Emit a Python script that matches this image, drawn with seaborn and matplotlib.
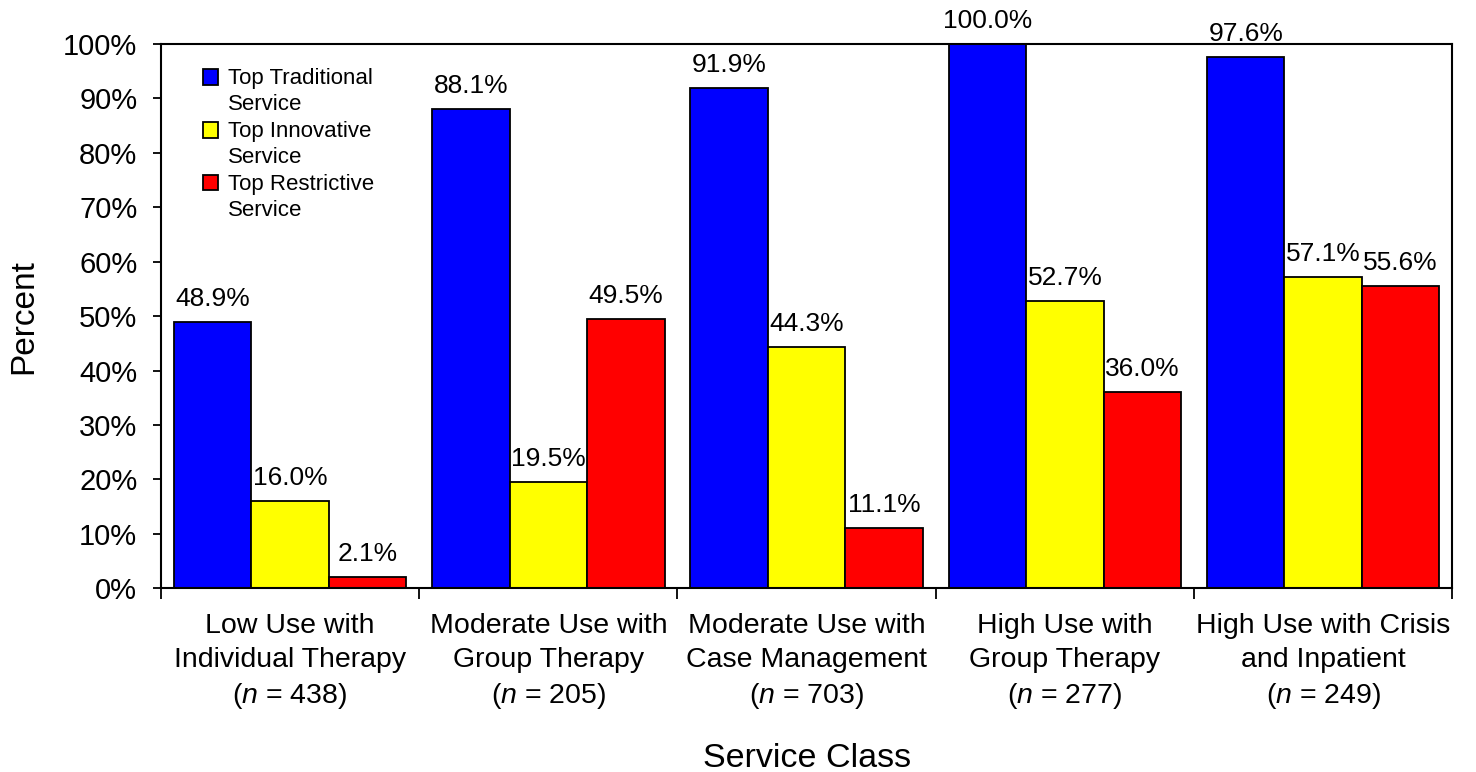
import numpy as np
import pandas as pd
import matplotlib
matplotlib.use('Agg')
import matplotlib.pyplot as plt
from matplotlib.ticker import FuncFormatter, FixedLocator
from matplotlib.legend_handler import HandlerPatch
from matplotlib.patches import Rectangle
import seaborn as sns

sns.set_theme(style='ticks')
plt.rcParams['font.family'] = ['Liberation Sans', 'DejaVu Sans']
plt.rcParams['mathtext.fontset'] = 'custom'
plt.rcParams['mathtext.rm'] = 'Liberation Sans'
plt.rcParams['mathtext.it'] = 'Liberation Sans:italic'
plt.rcParams['text.color'] = 'black'
plt.rcParams['axes.labelcolor'] = 'black'
plt.rcParams['xtick.color'] = 'black'
plt.rcParams['ytick.color'] = 'black'

# data
classes = ['Low Use with\nIndividual Therapy', 'Moderate Use with\nGroup Therapy',
           'Moderate Use with\nCase Management', 'High Use with\nGroup Therapy',
           'High Use with Crisis\nand Inpatient']
n_sizes = [438, 205, 703, 277, 249]
services = ['Top Traditional\nService', 'Top Innovative\nService', 'Top Restrictive\nService']
traditional = [48.9, 88.1, 91.9, 100.0, 97.6]
innovative = [16.0, 19.5, 44.3, 52.7, 57.1]
restrictive = [2.1, 49.5, 11.1, 36.0, 55.6]
colors = ['#0000FF', '#FFFF00', '#FF0000']

tick_labels = [f'{c}\n($\\mathit{{n}}$ = {n})' for c, n in zip(classes, n_sizes)]

df = pd.DataFrame({
    'cls': classes * 3,
    'svc': np.repeat(services, len(classes)),
    'pct': traditional + innovative + restrictive,
})

fig, ax = plt.subplots(figsize=(14.76, 7.72), dpi=100)
fig.subplots_adjust(left=0.109, right=0.984, top=0.943, bottom=0.238)

sns.barplot(data=df, x='cls', y='pct', hue='svc', order=classes, hue_order=services,
            palette=colors, saturation=1, width=0.9, edgecolor='black', linewidth=1.3, ax=ax)

for cont in ax.containers:
    labels = ax.bar_label(cont, fmt='%.1f%%', padding=8, fontsize=19)
    for t in labels:
        t.set_clip_on(False)

ax.set_ylim(0, 100)
ax.set_yticks(range(0, 101, 10))
ax.yaxis.set_major_formatter(FuncFormatter(lambda v, p: f'{v:.0f}%'))
ax.tick_params(axis='y', labelsize=21, length=6, width=1.3, pad=11)

ax.set_xlim(-0.5, 4.5)
ax.set_xticks(range(len(classes)))
ax.set_xticklabels(tick_labels, fontsize=20.5, linespacing=1.38)
ax.tick_params(axis='x', which='major', length=0, pad=18)
ax.xaxis.set_minor_locator(FixedLocator(np.arange(-0.5, 5, 1)))
ax.tick_params(axis='x', which='minor', length=8, width=1.3)

for s in ax.spines.values():
    s.set_linewidth(1.5)
    s.set_color('black')

ax.set_xlabel('Service Class', fontsize=24.5, labelpad=23)
ax.set_ylabel('Percent', fontsize=24, labelpad=17)


# legend square sits next to the first line of each two-line label
def top_square(legend, orig_handle, xdescent, ydescent, width, height, fontsize):
    s = 0.7 * fontsize
    return Rectangle((-xdescent, -ydescent + height - 0.45 * fontsize), s, s)


leg = ax.legend(loc='upper left', bbox_to_anchor=(0.017, 0.992), frameon=False,
                fontsize=16, handlelength=0.7, handleheight=2.1, handletextpad=0.45,
                labelspacing=0.25, title=None,
                handler_map={Rectangle: HandlerPatch(patch_func=top_square)})
for t in leg.get_texts():
    t.set_linespacing(1.32)
for h in leg.legend_handles:
    h.set_edgecolor('black')
    h.set_linewidth(1.3)

fig.savefig('out.png', dpi=100)
